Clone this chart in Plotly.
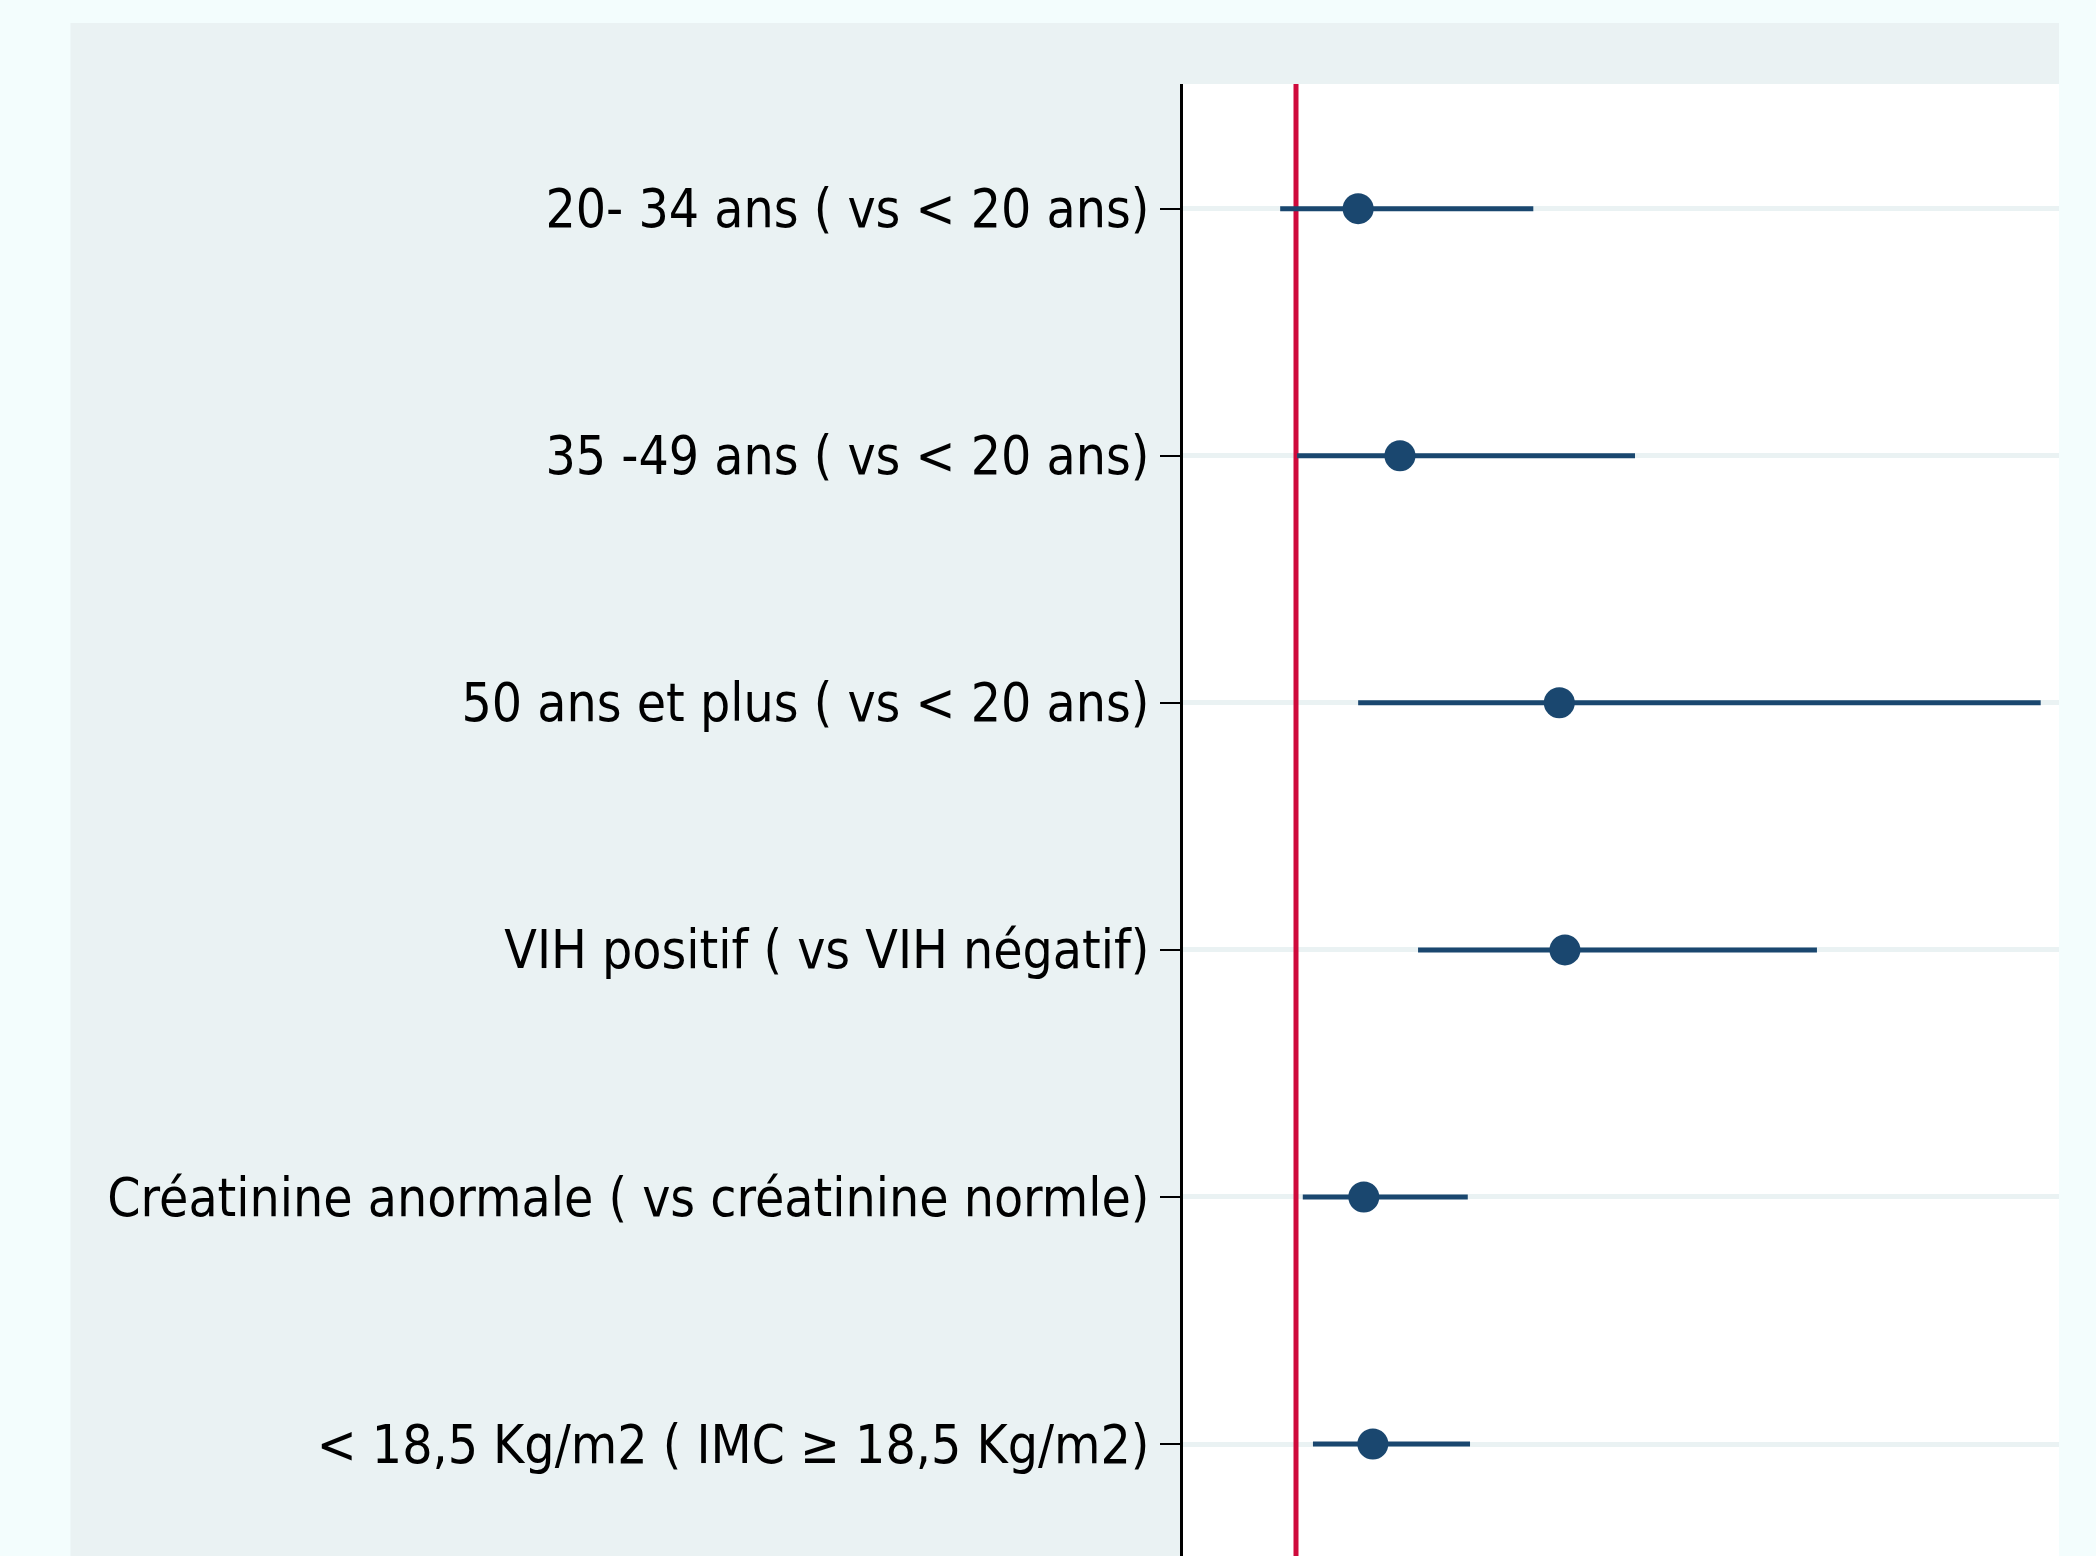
import plotly.graph_objects as go

# Odds ratios with 95% CI
labels = [
    "20- 34 ans ( vs < 20 ans)",
    "35 -49 ans ( vs < 20 ans)",
    "50 ans et plus ( vs < 20 ans)",
    "VIH positif ( vs VIH négatif)",
    "Créatinine anormale ( vs créatinine normle)",
    "< 18,5 Kg/m2 ( IMC ≥ 18,5 Kg/m2)",
]
odds_ratio = [1.55, 1.92, 3.33, 3.38, 1.60, 1.68]
ci_low = [0.86, 1.01, 1.55, 2.08, 1.06, 1.15]
ci_high = [3.10, 4.00, 7.59, 5.61, 2.52, 2.54]
ref_value = 1

rows = list(range(1, len(labels) + 1))

NAVY = "#1A476F"
PANEL = "#EAF2F3"
OUTER = "#F3FDFD"
RED = "#CF0A3C"

fig = go.Figure()

# reference line at OR = 1
fig.add_trace(go.Scatter(
    x=[ref_value, ref_value], y=[0, 7],
    mode="lines",
    line=dict(color=RED, width=5),
    hoverinfo="skip",
    showlegend=False
))

fig.add_trace(go.Scatter(
    x=odds_ratio,
    y=rows,
    mode="markers",
    marker=dict(color=NAVY, size=31),
    error_x=dict(
        type="data",
        symmetric=False,
        array=[h - p for h, p in zip(ci_high, odds_ratio)],
        arrayminus=[p - l for p, l in zip(odds_ratio, ci_low)],
        color=NAVY,
        thickness=5,
        width=0
    ),
    showlegend=False
))

# grey panel behind labels and above plot area
fig.add_shape(type="rect", xref="paper", yref="paper",
              x0=-1.27, x1=0, y0=-0.1, y1=1.0415,
              fillcolor=PANEL, line_width=0, layer="below")
fig.add_shape(type="rect", xref="paper", yref="paper",
              x0=0, x1=1, y0=1, y1=1.0415,
              fillcolor=PANEL, line_width=0, layer="below")

fig.update_layout(
    width=2096,
    height=1556,
    margin=dict(l=1183, r=37, t=84, b=0),
    paper_bgcolor=OUTER,
    plot_bgcolor="white",
    font=dict(family="DejaVu Sans Condensed, Liberation Sans, Arial", size=53, color="black"),
    xaxis=dict(
        range=[0, 7.752],
        showticklabels=False,
        showgrid=False,
        zeroline=False,
        showline=False,
        ticks=""
    ),
    yaxis=dict(
        range=[6.453, 0.4955],
        tickmode="array",
        tickvals=rows,
        ticktext=labels,
        showgrid=True,
        gridcolor=PANEL,
        gridwidth=5,
        zeroline=False,
        showline=True,
        linecolor="black",
        linewidth=3,
        ticks="outside",
        ticklen=20,
        tickwidth=2,
        tickcolor="black",
        ticklabelstandoff=0
    )
)

fig.write_html("out.html", config={"displayModeBar": False},
               post_script="document.body.style.margin='0';")
